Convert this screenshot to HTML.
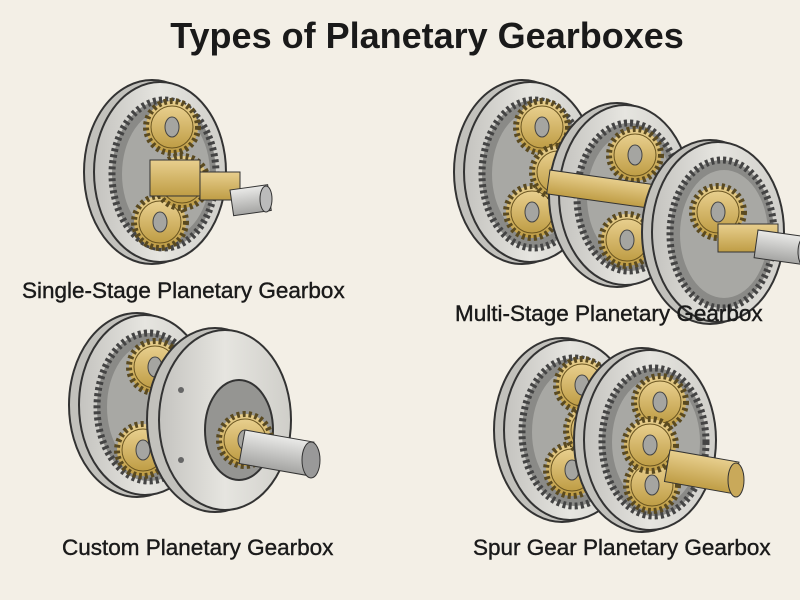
<!DOCTYPE html>
<html><head><meta charset="utf-8"><style>
html,body{margin:0;padding:0;background:#f3efe6;}
svg{display:block}
text{font-family:"Liberation Sans",sans-serif;fill:#1a1a1a}
.lb{font-size:22.5px;stroke:#1a1a1a;stroke-width:0.4px}
</style></head><body>
<svg width="800" height="600" viewBox="0 0 800 600" xmlns="http://www.w3.org/2000/svg">
<defs>
<linearGradient id="gr" x1="0" x2="1"><stop offset="0" stop-color="#c4c3bf"/><stop offset="0.5" stop-color="#e6e5e0"/><stop offset="1" stop-color="#cfcec9"/></linearGradient>
<linearGradient id="gd" x1="0" x2="0" y1="0" y2="1"><stop offset="0" stop-color="#e8cf8e"/><stop offset="1" stop-color="#bf9d45"/></linearGradient>
<linearGradient id="sh" x1="0" x2="0" y1="0" y2="1"><stop offset="0" stop-color="#eaeae8"/><stop offset="1" stop-color="#a4a4a2"/></linearGradient>
<g id="ring">
 <ellipse cx="-8" cy="0" rx="68" ry="92" fill="#c2c1bc" stroke="#333" stroke-width="2"/>
 <ellipse cx="0" cy="0" rx="66" ry="90" fill="url(#gr)" stroke="#333" stroke-width="2"/>
 <ellipse cx="4" cy="2" rx="52" ry="74" fill="#8a8a87" stroke="#444" stroke-width="7" stroke-dasharray="3 3"/>
 <ellipse cx="6" cy="2" rx="44" ry="64" fill="#a8a8a4"/>
</g>
<g id="gear">
 <circle r="26" fill="url(#gd)" stroke="#5a4a20" stroke-width="6" stroke-dasharray="3 3"/>
 <circle r="21" fill="url(#gd)" stroke="#6a5520" stroke-width="1"/>
 <ellipse rx="7" ry="10" fill="#a5a5a1" stroke="#444"/>
</g>
</defs>
<rect width="800" height="600" fill="#f3efe6"/>
<text x="427" y="48" text-anchor="middle" font-size="36" font-weight="bold">Types of Planetary Gearboxes</text>

<g transform="translate(160,172)">
 <use href="#ring"/>
 <use href="#gear" x="12" y="-45"/>
 <use href="#gear" x="0" y="50"/>
 <use href="#gear" x="22" y="10"/>
 <rect x="-10" y="-12" width="50" height="36" fill="url(#gd)" stroke="#333"/>
 <rect x="40" y="0" width="40" height="28" fill="url(#gd)" stroke="#333"/>
 <rect x="70" y="18" width="38" height="26" fill="url(#sh)" stroke="#333" transform="rotate(-8 70 18)"/>
 <ellipse cx="106" cy="27" rx="6" ry="13" fill="#bbb" stroke="#333"/>
</g>
<text class="lb" x="22" y="298">Single-Stage Planetary Gearbox</text>

<g transform="translate(530,172)">
 <use href="#ring"/>
 <use href="#gear" x="12" y="-45"/>
 <use href="#gear" x="2" y="40"/>
 <use href="#gear" x="28" y="0"/>
</g>
<g transform="translate(625,195)">
 <use href="#ring"/>
 <use href="#gear" x="10" y="-40"/>
 <use href="#gear" x="2" y="45"/>
</g>
<rect x="550" y="170" width="160" height="24" fill="url(#gd)" stroke="#333" transform="rotate(8 550 170)"/>
<g transform="translate(718,232)">
 <use href="#ring"/>
 <use href="#gear" x="0" y="-20"/>
 <rect x="0" y="-8" width="60" height="28" fill="url(#gd)" stroke="#333"/>
 <rect x="40" y="-2" width="50" height="28" fill="url(#sh)" stroke="#333" transform="rotate(8 40 -2)"/>
 <ellipse cx="86" cy="20" rx="6" ry="14" fill="#bbb" stroke="#333"/>
</g>
<text class="lb" x="455" y="321">Multi-Stage Planetary Gearbox</text>

<g transform="translate(145,405)">
 <use href="#ring"/>
 <use href="#gear" x="10" y="-38"/>
 <use href="#gear" x="-2" y="45"/>
</g>
<g transform="translate(225,420)">
 <ellipse cx="-10" cy="0" rx="68" ry="92" fill="#c2c1bc" stroke="#333" stroke-width="2"/>
 <ellipse cx="0" cy="0" rx="66" ry="90" fill="url(#gr)" stroke="#333" stroke-width="2"/>
 <ellipse cx="14" cy="10" rx="34" ry="50" fill="#959592" stroke="#333" stroke-width="2"/>
 <use href="#gear" x="20" y="20"/>
 <rect x="20" y="10" width="70" height="34" fill="url(#sh)" stroke="#333" transform="rotate(10 20 10)"/>
 <ellipse cx="86" cy="40" rx="9" ry="18" fill="#999" stroke="#333"/>
 <circle cx="-44" cy="-30" r="3" fill="#666"/><circle cx="-44" cy="40" r="3" fill="#666"/>
</g>
<text class="lb" x="62" y="555">Custom Planetary Gearbox</text>

<g transform="translate(570,430)">
 <use href="#ring"/>
 <use href="#gear" x="12" y="-45"/>
 <use href="#gear" x="2" y="40"/>
 <use href="#gear" x="22" y="0"/>
</g>
<g transform="translate(650,440)">
 <use href="#ring"/>
 <use href="#gear" x="10" y="-38"/>
 <use href="#gear" x="2" y="45"/>
 <use href="#gear" x="0" y="5"/>
 <rect x="20" y="10" width="70" height="32" fill="url(#gd)" stroke="#333" transform="rotate(10 20 10)"/>
 <ellipse cx="86" cy="40" rx="8" ry="17" fill="#c9a95a" stroke="#333"/>
</g>
<text class="lb" x="473" y="555">Spur Gear Planetary Gearbox</text>
</svg>
</body></html>
